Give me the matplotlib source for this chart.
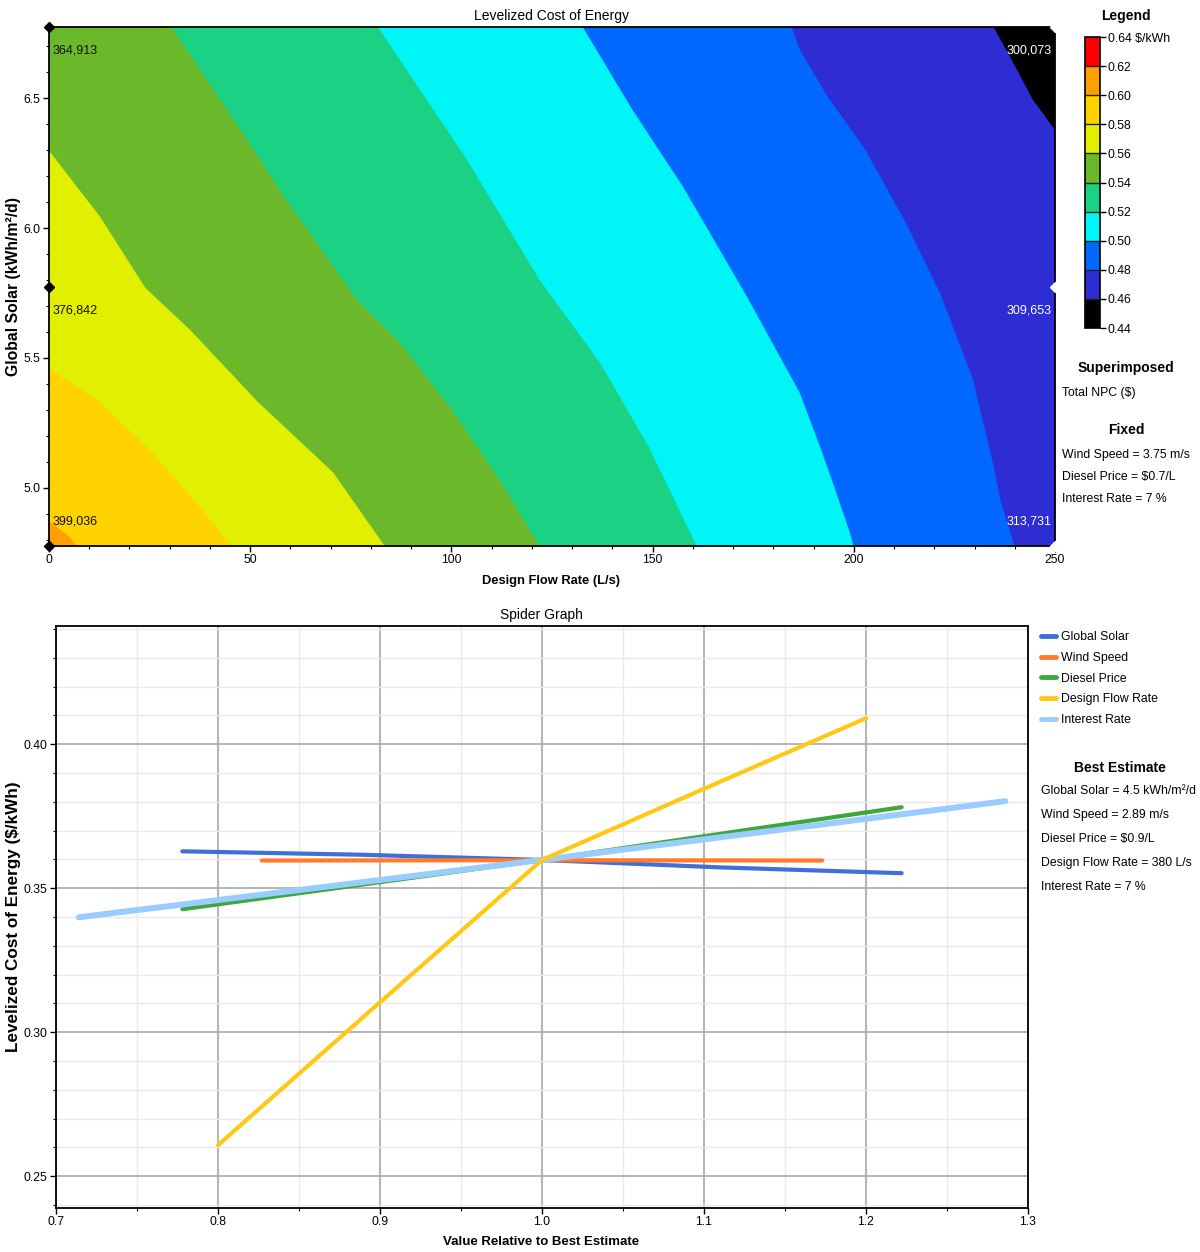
import matplotlib
matplotlib.use("Agg")
import matplotlib.pyplot as plt
from matplotlib.colors import ListedColormap, BoundaryNorm
from matplotlib.cm import ScalarMappable
from matplotlib.ticker import MultipleLocator
from matplotlib.lines import Line2D

FONT = ['Liberation Sans', 'DejaVu Sans']
plt.rcParams['font.family'] = FONT

# ---------------- data: LCOE surface ----------------
band_levels = [0.44, 0.46, 0.48, 0.50, 0.52, 0.54, 0.56, 0.58, 0.60, 0.62, 0.64]
band_colors = ['#000000', '#2D2DD3', '#0068FF', '#00F6F6', '#1BD184',
               '#6BB82B', '#E1F000', '#FFD200', '#FF9F00', '#FF0000']

solar_min, solar_max = 4.775, 6.775
flow_min, flow_max = 0, 250

# contour boundaries (flow rate L/s, global solar kWh/m2/d), bottom -> top
b060_flow = [6.8, 5.2, 2.3, 0, 0]
b060_solar = [4.775, 4.81, 4.846, 4.87, 6.775]
b058_flow = [45.5, 37.5, 25.1, 12.7, 0, 0]
b058_solar = [4.775, 4.927, 5.146, 5.33, 5.46, 6.775]
b056_flow = [83.5, 70.6, 52.0, 35.0, 24.0, 12.7, 0, 0]
b056_solar = [4.775, 5.06, 5.33, 5.61, 5.77, 6.045, 6.30, 6.775]
b054_flow = [122, 112, 99.7, 87.2, 76.5, 59.0, 48.0, 30.5]
b054_solar = [4.775, 5.03, 5.31, 5.56, 5.725, 6.11, 6.37, 6.775]
b052_flow = [161, 149, 137, 122, 103.9, 87.2, 81.8]
b052_solar = [4.775, 5.16, 5.48, 5.80, 6.264, 6.65, 6.775]
b050_flow = [200, 199, 194.6, 191.6, 186.6, 173.5, 157.6, 145, 132.7]
b050_solar = [4.775, 4.83, 5.03, 5.16, 5.366, 5.736, 6.16, 6.457, 6.775]
b048_flow = [240, 236.5, 234.6, 229.7, 221.5, 213, 203, 193, 186.6, 184.6]
b048_solar = [4.775, 4.95, 5.096, 5.416, 5.75, 6.02, 6.30, 6.52, 6.69, 6.775]
b046_flow = [250, 250, 244.5, 239.6, 234.8]
b046_solar = [4.775, 6.38, 6.496, 6.64, 6.775]

boundary_levels = [0.60, 0.58, 0.56, 0.54, 0.52, 0.50, 0.48, 0.46]
boundary_flows = [b060_flow, b058_flow, b056_flow, b054_flow, b052_flow, b050_flow, b048_flow, b046_flow]
boundary_solars = [b060_solar, b058_solar, b056_solar, b054_solar, b052_solar, b050_solar, b048_solar, b046_solar]

# superimposed Total NPC ($)
npc_solar = [6.775, 5.775, 4.775]
npc_left = [364913, 376842, 399036]
npc_right = [300073, 309653, 313731]

fixed_lines = ['Wind Speed = 3.75 m/s', 'Diesel Price = $0.7/L', 'Interest Rate = 7 %']

# ---------------- data: spider graph ----------------
solar_x = [0.778, 0.889, 1.0, 1.111, 1.222]
solar_y = [0.3628, 0.3616, 0.3598, 0.3572, 0.3552]
wind_x = [0.827, 1.0, 1.173]
wind_y = [0.3596, 0.3597, 0.3596]
diesel_x = [0.778, 1.0, 1.222]
diesel_y = [0.3427, 0.3598, 0.3781]
flow_x = [0.8, 0.9, 1.0, 1.1, 1.2]
flow_y = [0.2608, 0.3104, 0.3598, 0.3845, 0.4090]
interest_x = [0.714, 1.0, 1.286]
interest_y = [0.3399, 0.3598, 0.3802]

series_names = ['Global Solar', 'Wind Speed', 'Diesel Price', 'Design Flow Rate', 'Interest Rate']
series_x = [solar_x, wind_x, diesel_x, flow_x, interest_x]
series_y = [solar_y, wind_y, diesel_y, flow_y, interest_y]
series_colors = ['#3F6FD8', '#FF7A2A', '#3DA73D', '#FFC814', '#99CCFF']
series_widths = [3.0, 3.0, 3.0, 3.0, 4.3]
series_z = [3, 4, 5, 7, 6]

best_lines = ['Global Solar = 4.5 kWh/m\u00b2/d', 'Wind Speed = 2.89 m/s', 'Diesel Price = $0.9/L',
              'Design Flow Rate = 380 L/s', 'Interest Rate = 7 %']

W, H = 1200, 1252
fig = plt.figure(figsize=(W / 100, H / 100), dpi=100)

TICK = 8.8
SIDE = 8.8
HEAD = 10


def fx(px):
    return px / W


def fy(py):
    return 1 - py / H


# ---------------- top: surface plot ----------------
ax1 = fig.add_axes([fx(49), fy(546), (1055 - 49) / W, (546 - 27) / H])
ax1.set_xlim(flow_min, flow_max)
ax1.set_ylim(solar_min, solar_max)

cmap = ListedColormap(band_colors)
norm = BoundaryNorm(band_levels, cmap.N)

ax1.fill([flow_min, flow_max, flow_max, flow_min], [solar_min, solar_min, solar_max, solar_max],
         color=band_colors[band_levels.index(0.60)], lw=0)
for lev, bf, bs in zip(boundary_levels, boundary_flows, boundary_solars):
    idx = band_levels.index(lev) - 1
    xs = list(bf) + [flow_max, flow_max]
    ys = list(bs) + [solar_max, solar_min]
    ax1.fill(xs, ys, color=band_colors[idx], lw=0.3, ec=band_colors[idx])

ax1.set_xticks([0, 50, 100, 150, 200, 250])
ax1.xaxis.set_minor_locator(MultipleLocator(10))
ax1.set_yticks([5.0, 5.5, 6.0, 6.5])
ax1.set_yticklabels(['5.0', '5.5', '6.0', '6.5'])
ax1.yaxis.set_minor_locator(MultipleLocator(0.1))
ax1.tick_params(axis='both', which='major', labelsize=TICK, length=4, width=1, colors='black', pad=2)
ax1.tick_params(axis='both', which='minor', length=2.5, width=0.8)
for s in ax1.spines.values():
    s.set_linewidth(1.3)
    s.set_color('black')

for s_val, v in zip(npc_solar, npc_left):
    ax1.plot([flow_min], [s_val], marker='D', ms=5, color='black', clip_on=False, zorder=10)
    off = 18 if s_val == solar_min else -17
    ax1.annotate(f'{v:,}', (flow_min, s_val), xytext=(2.5, off), textcoords='offset points',
                 ha='left', va='center', fontsize=9, color='#111111')
for s_val, v in zip(npc_solar, npc_right):
    ax1.plot([flow_max], [s_val], marker='D', ms=5, color='white', clip_on=False, zorder=10)
    off = 18 if s_val == solar_min else -17
    ax1.annotate(f'{v:,}', (flow_max, s_val), xytext=(-2.5, off), textcoords='offset points',
                 ha='right', va='center', fontsize=9, color='white')

fig.text(fx(552), fy(16), 'Levelized Cost of Energy', ha='center', va='center', fontsize=HEAD)
fig.text(fx(551), fy(581), 'Design Flow Rate (L/s)', ha='center', va='center', fontsize=9.3,
         fontweight='bold')
fig.text(fx(14), fy(287), 'Global Solar (kWh/m\u00b2/d)', ha='center', va='center', rotation=90,
         fontsize=11.3, fontweight='bold')

# colour bar legend
cax = fig.add_axes([fx(1085), fy(328), 15 / W, (328 - 37) / H])
cb = fig.colorbar(ScalarMappable(norm=norm, cmap=cmap), cax=cax, ticks=band_levels, drawedges=True)
cb.ax.set_yticklabels([f'{v:.2f}' for v in band_levels[:-1]] + [f'{band_levels[-1]:.2f} $/kWh'])
cb.ax.tick_params(labelsize=TICK, length=4, width=1, colors='black', pad=1.5)
cb.outline.set_linewidth(1.2)
cb.dividers.set_linewidth(1.0)
cb.dividers.set_color('#222222')

fig.text(fx(1126), fy(16), 'Legend', ha='center', va='center', fontsize=HEAD, fontweight='bold')
fig.text(fx(1126), fy(368), 'Superimposed', ha='center', va='center', fontsize=HEAD, fontweight='bold')
fig.text(fx(1062), fy(393), 'Total NPC ($)', ha='left', va='center', fontsize=SIDE)
fig.text(fx(1126), fy(430), 'Fixed', ha='center', va='center', fontsize=HEAD, fontweight='bold')
for i, t in enumerate(fixed_lines):
    fig.text(fx(1062), fy(455 + 22 * i), t, ha='left', va='center', fontsize=SIDE)

# ---------------- bottom: spider graph ----------------
ax2 = fig.add_axes([fx(56), fy(1208), (1028 - 56) / W, (1208 - 626) / H])
ax2.set_xlim(0.7, 1.3)
ax2.set_ylim(0.239, 0.441)
ax2.set_xticks([0.7, 0.8, 0.9, 1.0, 1.1, 1.2, 1.3])
ax2.set_xticklabels(['0.7', '0.8', '0.9', '1.0', '1.1', '1.2', '1.3'])
ax2.xaxis.set_minor_locator(MultipleLocator(0.05))
ax2.set_yticks([0.25, 0.30, 0.35, 0.40])
ax2.set_yticklabels(['0.25', '0.30', '0.35', '0.40'])
ax2.yaxis.set_minor_locator(MultipleLocator(0.01))
ax2.grid(which='minor', color='#EAEAEA', lw=1.0)
ax2.grid(which='major', color='#A8A8A8', lw=1.2)
ax2.set_axisbelow(True)
ax2.tick_params(axis='both', which='major', labelsize=TICK, length=4, width=1, colors='black', pad=2)
ax2.tick_params(axis='both', which='minor', length=2.5, width=0.8)
for s in ax2.spines.values():
    s.set_linewidth(1.3)
    s.set_color('black')

handles = []
for name, xs, ys, c, lw, z in zip(series_names, series_x, series_y, series_colors, series_widths, series_z):
    ax2.plot(xs, ys, color=c, lw=lw, zorder=z, solid_capstyle='round')
    handles.append(Line2D([], [], color=c, lw=3.5, solid_capstyle='round'))

fig.legend(handles, series_names, loc='upper left', bbox_to_anchor=(fx(1041), fy(631)),
           frameon=False, fontsize=SIDE, handlelength=1.2, handletextpad=0.45,
           labelspacing=0.72, borderaxespad=0, borderpad=0)

fig.text(fx(541), fy(615), 'Spider Graph', ha='center', va='center', fontsize=HEAD)
fig.text(fx(541), fy(1242), 'Value Relative to Best Estimate', ha='center', va='center',
         fontsize=9.5, fontweight='bold')
fig.text(fx(14), fy(917), 'Levelized Cost of Energy ($/kWh)', ha='center', va='center', rotation=90,
         fontsize=12.3, fontweight='bold')

fig.text(fx(1120), fy(768), 'Best Estimate', ha='center', va='center', fontsize=HEAD, fontweight='bold')
for i, t in enumerate(best_lines):
    fig.text(fx(1041), fy(791 + 24 * i), t, ha='left', va='center', fontsize=SIDE)

fig.savefig('out.png', dpi=100, facecolor='white')
